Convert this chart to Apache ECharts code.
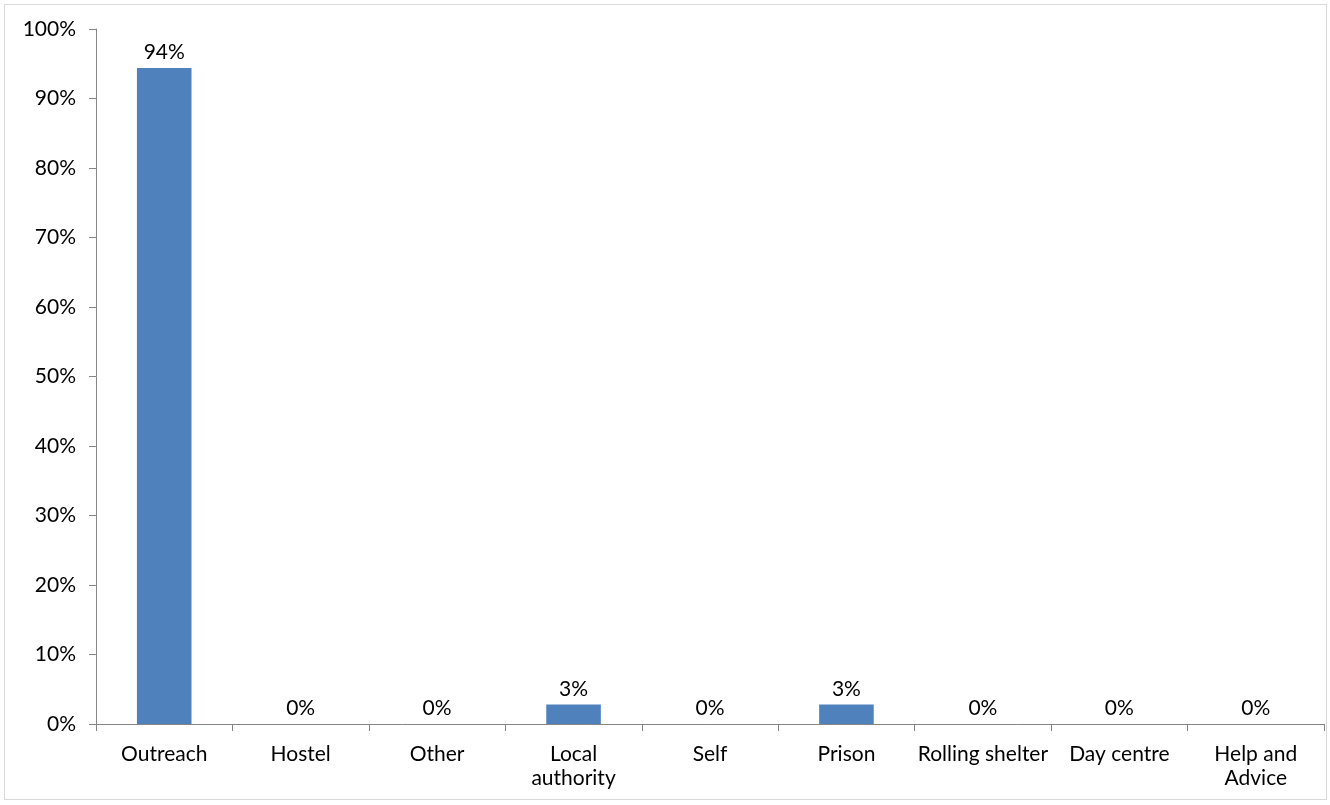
<!DOCTYPE html>
<html>
<head>
<meta charset="utf-8">
<script src="https://cdn.jsdelivr.net/npm/echarts@6/dist/echarts.min.js"></script>
<style>
html,body{margin:0;padding:0;background:#fff;}
#frame{position:absolute;left:4px;top:4px;width:1323px;height:796px;border:1px solid #d9d9d9;box-sizing:border-box;}
#chart{position:absolute;left:0;top:0;width:1330px;height:805px;}
</style>
</head>
<body>
<div id="frame"></div>
<div id="chart"></div>
<script>
var categories = ["Outreach", "Hostel", "Other", "Local\nauthority", "Self", "Prison", "Rolling shelter", "Day centre", "Help and\nAdvice"];
var values = [94.4, 0, 0, 2.8, 0, 2.8, 0, 0, 0];
var yTicks = {min: 0, max: 100, interval: 10};

var chart = echarts.init(document.getElementById('chart'), null, {renderer: 'canvas'});
var font = 'Lato, "Open Sans", sans-serif';
chart.setOption({
  animation: false,
  grid: {left: 96, right: 6, top: 29, bottom: 81, containLabel: false},
  xAxis: {
    type: 'category',
    data: categories,
    axisLine: {lineStyle: {color: '#868686', width: 1}},
    axisTick: {show: true, length: 7, lineStyle: {color: '#868686'}},
    axisLabel: {color: '#000', fontFamily: font, fontSize: 21, margin: 18, lineHeight: 24, interval: 0}
  },
  yAxis: {
    type: 'value',
    min: yTicks.min, max: yTicks.max, interval: yTicks.interval,
    axisLine: {show: true, lineStyle: {color: '#868686', width: 1}},
    axisTick: {show: true, length: 7, lineStyle: {color: '#868686'}},
    splitLine: {show: false},
    axisLabel: {color: '#000', fontFamily: font, fontSize: 21, margin: 20, formatter: '{value}%'}
  },
  series: [{
    type: 'bar',
    data: values,
    barWidth: '40%',
    itemStyle: {color: '#4F81BD', borderWidth: 0},
    label: {
      show: true, position: 'top', distance: 5, color: '#000', fontFamily: font, fontSize: 21,
      formatter: function(p){ return Math.round(p.value) + '%'; }
    }
  }]
});
</script>
</body>
</html>
